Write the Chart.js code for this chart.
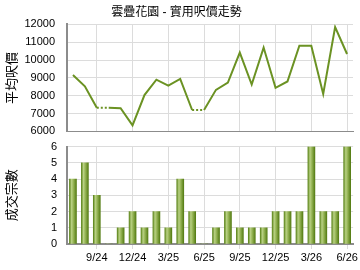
<!DOCTYPE html>
<html><head><meta charset="utf-8">
<script src="https://cdn.jsdelivr.net/npm/chart.js@4/dist/chart.umd.min.js"></script>
<style>
html,body{margin:0;padding:0;background:#fff;}
#wrap{position:relative;width:360px;height:270px;overflow:hidden;}
#c1{position:absolute;left:0;top:0;}
#c2{position:absolute;left:0;top:130px;}
</style></head>
<body><div id="wrap"><canvas id="c2" width="360" height="140"></canvas><canvas id="c1" width="360" height="150"></canvas></div>
<script>
const months = ['7/24','8/24','9/24','10/24','11/24','12/24','1/25','2/25','3/25','4/25','5/25','6/25','7/25','8/25','9/25','10/25','11/25','12/25','1/26','2/26','3/26','4/26','5/26','6/26'];
const shownTicks = ['9/24','12/24','3/25','6/25','9/25','12/25','3/26','6/26'];
const avgPrice = [9160,8530,7330,7330,7300,6340,8040,8900,8570,8940,7200,7200,8330,8740,10420,8630,10700,8440,8800,10800,10800,8100,11850,10340];
const dealCount = [4,5,3,0,1,2,1,2,1,4,2,0,1,2,1,1,1,2,2,2,6,2,2,6];
const titleText = '雲疊花園 - 實用呎價走勢';
const priceAxisTitle = '平均呎價';
const countAxisTitle = '成交宗數';

const FONT = "'Liberation Sans', 'Noto Sans CJK TC', sans-serif";
const gridCol = '#dcdcdc';
const axisCol = '#8c8c8c';
Chart.defaults.animation = false;
Chart.defaults.responsive = false;
Chart.defaults.color = '#000';
Chart.defaults.font.family = FONT;

const xGridColor = (c) => (c.tick && shownTicks.includes(months[c.index])) ? gridCol : 'rgba(0,0,0,0)';
const xTickCb = function(v, i){ return shownTicks.includes(months[i]) ? months[i] : ''; };

new Chart(document.getElementById('c1'), {
  type: 'line',
  data: { labels: months, datasets: [{
    data: avgPrice,
    borderColor: '#6b9223',
    borderWidth: 2,
    pointRadius: 0,
    tension: 0,
    segment: { borderDash: (ctx) => dealCount[ctx.p1DataIndex] === 0 ? [2,2] : undefined }
  }]},
  options: {
    layout: { padding: { left: 0, right: 7, top: 0, bottom: 8 } },
    plugins: {
      legend: { display: false }, tooltip: { enabled: false },
      title: { display: true, text: titleText, font: { size: 12, weight: 'normal', family: FONT }, padding: { top: 5, bottom: 5 }, color: '#000' }
    },
    scales: {
      x: {
        offset: true,
        grid: { offset: false, color: xGridColor, drawTicks: false },
        border: { color: axisCol, width: 1 },
        ticks: { display: false, autoSkip: false },
        afterFit: (s) => { s.height = 0; }
      },
      y: {
        min: 6000, max: 12000,
        ticks: { stepSize: 1000, padding: 12, font: { size: 11 }, color: '#000', callback: (v) => String(v) },
        grid: { color: gridCol, drawTicks: false },
        border: { color: axisCol, width: 2 },
        title: { display: true, text: priceAxisTitle, font: { size: 13 }, padding: { top: 5, bottom: 0 }, color: '#000' },
        afterFit: (s) => { s.width = 67; }
      }
    }
  }
});

function barGradient(ctx) {
  const chart = ctx.chart;
  if (!chart.chartArea || !chart.scales.x) return '#86a844';
  const x = chart.scales.x.getPixelForValue(ctx.dataIndex);
  const g = chart.ctx.createLinearGradient(x - 3.5, 0, x + 3.5, 0);
  g.addColorStop(0, '#5c851a');
  g.addColorStop(0.3, '#b9d184');
  g.addColorStop(0.55, '#98b658');
  g.addColorStop(1, '#557d14');
  return g;
}

new Chart(document.getElementById('c2'), {
  type: 'bar',
  data: { labels: months, datasets: [{
    data: dealCount,
    backgroundColor: barGradient,
    borderWidth: 0,
    barThickness: 7
  }]},
  options: {
    layout: { padding: { left: 0, right: 6, top: 3, bottom: 0 } },
    plugins: { legend: { display: false }, tooltip: { enabled: false } },
    scales: {
      x: {
        offset: true,
        grid: { offset: false, color: xGridColor, tickLength: 5, drawTicks: true },
        border: { color: axisCol, width: 2 },
        ticks: { autoSkip: false, maxRotation: 0, padding: 2, font: { size: 11 }, color: '#000', callback: xTickCb },
        afterFit: (s) => { s.height = 26; }
      },
      y: {
        min: 0, max: 6,
        ticks: { stepSize: 1, padding: 10, font: { size: 11 }, color: '#000' },
        grid: { color: gridCol, drawTicks: false },
        border: { color: axisCol, width: 2 },
        title: { display: true, text: countAxisTitle, font: { size: 13 }, padding: { top: 5, bottom: 0 }, color: '#000' },
        afterFit: (s) => { s.width = 67; }
      }
    }
  }
});
</script></body></html>
